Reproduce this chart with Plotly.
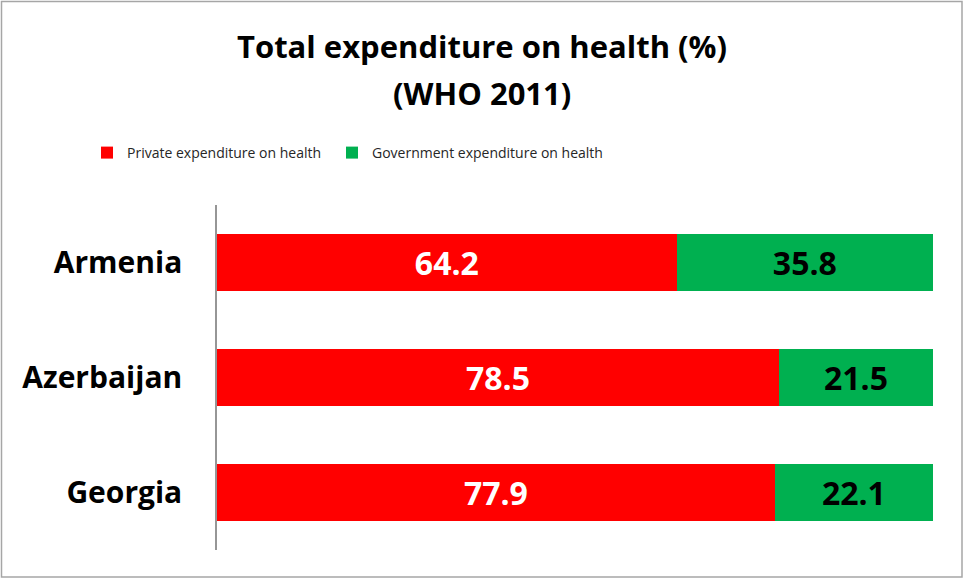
import plotly.graph_objects as go

countries = ["Armenia", "Azerbaijan", "Georgia"]
private = [64.2, 78.5, 77.9]
government = [35.8, 21.5, 22.1]
series_names = ["Private expenditure on health", "Government expenditure on health"]
title_lines = ["Total expenditure on health (%)", "(WHO 2011)"]

W, H = 964, 579
L, R, T, B = 217, 31, 205, 29
pw, ph = W - L - R, H - T - B

def px_x(p):
    return (p - L) / pw

def px_y(p):
    return (H - B - p) / ph

FONT = "Open Sans"

fig = go.Figure()
fig.add_trace(go.Bar(
    y=countries, x=private, orientation="h", name=series_names[0],
    marker=dict(color="#FF0000", line=dict(width=0)),
    text=[f"{v:.1f}" for v in private], textposition="inside",
    insidetextanchor="middle", legend="legend",
    textfont=dict(family=FONT, size=32, color="white", weight="bold"),
))
fig.add_trace(go.Bar(
    y=countries, x=government, orientation="h", name=series_names[1],
    marker=dict(color="#00B050", line=dict(width=0)),
    text=[f"{v:.1f}" for v in government], textposition="inside",
    insidetextanchor="middle", legend="legend2",
    textfont=dict(family=FONT, size=32, color="black", weight="bold"),
))

legend_common = dict(orientation="h", xanchor="left", yanchor="middle",
                     font=dict(family=FONT, size=14, color="#262626"),
                     itemwidth=30, bgcolor="rgba(0,0,0,0)")

fig.update_layout(
    width=W, height=H, barmode="stack", bargap=0.5,
    margin=dict(l=L, r=R, t=T, b=B, autoexpand=False),
    paper_bgcolor="white", plot_bgcolor="white",
    font=dict(family=FONT),
    uniformtext=dict(mode=False),
    xaxis=dict(range=[0, 100], visible=False, fixedrange=True),
    yaxis=dict(autorange="reversed", showline=True, linecolor="#969696",
               linewidth=1.5, ticks="", showgrid=False,
               tickfont=dict(family=FONT, size=30, color="black", weight="bold"),
               ticklabelstandoff=27),
    legend=dict(x=px_x(87), y=px_y(153), **legend_common),
    legend2=dict(x=px_x(332), y=px_y(153), **legend_common),
    showlegend=True,
)

fig.add_annotation(text=title_lines[0], xref="paper", yref="paper",
                   x=px_x(482), y=px_y(46), xanchor="center", yanchor="middle",
                   showarrow=False,
                   font=dict(family=FONT, size=31, color="black", weight="bold"))
fig.add_annotation(text=title_lines[1], xref="paper", yref="paper",
                   x=px_x(482), y=px_y(93), xanchor="center", yanchor="middle",
                   showarrow=False,
                   font=dict(family=FONT, size=31, color="black", weight="bold"))

fig.add_shape(type="rect", xref="paper", yref="paper",
              x0=px_x(1.5), x1=px_x(962), y0=px_y(577), y1=px_y(1.5),
              line=dict(color="#A6A6A6", width=1.5), layer="below")

fig.write_html("out.html", config={"displayModeBar": False},
               post_script="document.body.style.margin='0';document.body.style.padding='0';")
